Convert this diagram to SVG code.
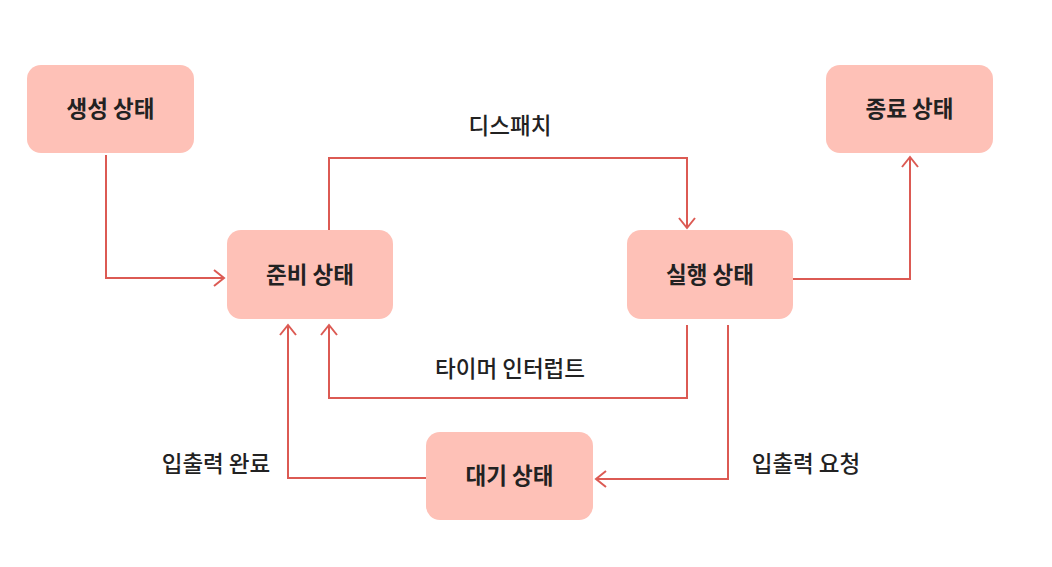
<svg xmlns="http://www.w3.org/2000/svg" width="1052" height="567" viewBox="0 0 1052 567">
  <style>
    .node rect { fill: #fec1b7; }
    .node text { font-family: "Noto Sans CJK KR", "Noto Sans", sans-serif; font-size: 22.5px; font-weight: 700; fill: #222222; text-anchor: middle; }
    .edges path { fill: none; stroke: #dc5a53; stroke-width: 2; stroke-linejoin: miter; }
    .label { font-family: "Noto Sans CJK KR", "Noto Sans", sans-serif; font-size: 22.5px; font-weight: 500; fill: #222222; text-anchor: middle; }
  </style>
  <defs>
    <marker id="arrow" markerUnits="userSpaceOnUse" markerWidth="24" markerHeight="24" viewBox="-12 -12 24 24" refX="0" refY="0" orient="auto">
      <path d="M-10,-8 L0,0 L-10,8" fill="none" stroke="#dc5a53" stroke-width="2"/>
    </marker>
  </defs>
  <rect width="1052" height="567" fill="#ffffff"/>

  <g class="edges" id="connectors">
    <path d="M106,155 V278 H224" marker-end="url(#arrow)"/>
    <path d="M329,230 V158 H687 V228" marker-end="url(#arrow)"/>
    <path d="M793,279 H910 V157" marker-end="url(#arrow)"/>
    <path d="M687,325 V398 H329 V325" marker-end="url(#arrow)"/>
    <path d="M728,325 V479 H596" marker-end="url(#arrow)"/>
    <path d="M426,478 H288 V325" marker-end="url(#arrow)"/>
  </g>

  <g id="edge-labels">
    <text class="label" x="510" y="134">디스패치</text>
    <text class="label" x="510" y="377">타이머 인터럽트</text>
    <text class="label" x="216" y="472">입출력 완료</text>
    <text class="label" x="806" y="472">입출력 요청</text>
  </g>

  <g class="node" id="node-created">
    <rect x="27" y="65" width="167" height="88" rx="14"/>
    <text x="110.5" y="117">생성 상태</text>
  </g>
  <g class="node" id="node-ready">
    <rect x="227" y="230" width="166" height="89" rx="14"/>
    <text x="310" y="282.5">준비 상태</text>
  </g>
  <g class="node" id="node-running">
    <rect x="627" y="230" width="166" height="89" rx="14"/>
    <text x="710" y="282.5">실행 상태</text>
  </g>
  <g class="node" id="node-terminated">
    <rect x="826" y="65" width="167" height="88" rx="14"/>
    <text x="909.5" y="117">종료 상태</text>
  </g>
  <g class="node" id="node-waiting">
    <rect x="426" y="432" width="167" height="88" rx="14"/>
    <text x="509.5" y="484">대기 상태</text>
  </g>
</svg>
